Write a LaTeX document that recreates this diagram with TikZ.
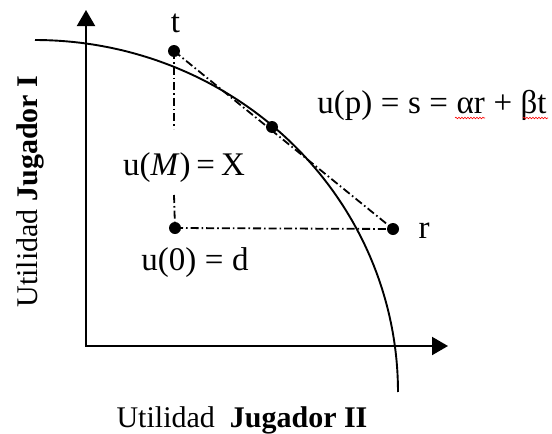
\documentclass[tikz,border=0pt]{standalone}
\usepackage{fontspec}
\setmainfont{Liberation Serif}
\usetikzlibrary{arrows.meta,decorations.pathmorphing}
\newcommand\eqgap{\hspace{0.26em}}
\begin{document}
\begin{tikzpicture}[x=1pt,y=-1pt,
  axis/.style={line width=2pt,{Triangle[length=16pt,width=18pt]}-{Triangle[length=16pt,width=18pt]}},
  dot/.style={circle,fill=black,inner sep=0pt,minimum size=12pt},
  dd/.style={line width=1.8pt,dash pattern=on 8pt off 3pt on 1.6pt off 3pt},
  lbl/.style={font=\fontsize{33}{38}\selectfont,inner sep=0pt},
  axlbl/.style={font=\fontsize{30}{36}\selectfont,inner sep=0pt},
  spell/.style={red,line width=0.6pt,decorate,decoration={snake,amplitude=0.8pt,segment length=3pt}}
]
\useasboundingbox (0,0) rectangle (552,434);
% axes
\coordinate (ytop) at (86,10);
\coordinate (O) at (86,346);
\coordinate (xend) at (448,346);
\draw[axis] (ytop) -- (O) -- (xend);
% frontier
\draw[line width=1.9pt] plot[domain=90:0,samples=150] ({35+363*cos(\x)},{392-352*sin(\x)});
% points
\node[dot] (t) at (174,51) {};
\node[dot] (p) at (272,127) {};
\node[dot] (d) at (175,228) {};
\node[dot] (r) at (393,229) {};
\coordinate (g1) at (174,129);
\coordinate (g2) at (174,195);
\draw[dd] (t.center) -- (g1);
\draw[dd] (g2) -- (d.center);
\draw[dd] (d.center) -- (r.center);
\draw[dd] (t.center) -- (r.center);
% labels
\node[lbl,anchor=base] (tl) at (175.5,32) {t};
\node[lbl,anchor=base] (rl) at (424,238) {r};
\node[lbl,anchor=base] (up) at (432,113) {u(p)\eqgap=\eqgap s\eqgap=\eqgap αr\eqgap+\eqgap βt};
\node[lbl,anchor=base] (uM) at (184,175) {u(\textit{M})\hspace{0.18em}=\hspace{0.18em}X};
\node[lbl,anchor=base] (u0) at (195,270) {u(0)\eqgap=\eqgap d};
\node[axlbl,anchor=base] (xl) at (242,427) {Utilidad\ \ \textbf{Jugador II}};
\node[axlbl,anchor=base,rotate=90] (yl) at (37,191.5) {Utilidad \textbf{Jugador I}};
% spell-check marks
\coordinate (s1a) at (455,118); \coordinate (s1b) at (485,118);
\coordinate (s2a) at (523,118); \coordinate (s2b) at (548,118);
\draw[spell] (s1a) -- (s1b);
\draw[spell] (s2a) -- (s2b);
\end{tikzpicture}
\end{document}
